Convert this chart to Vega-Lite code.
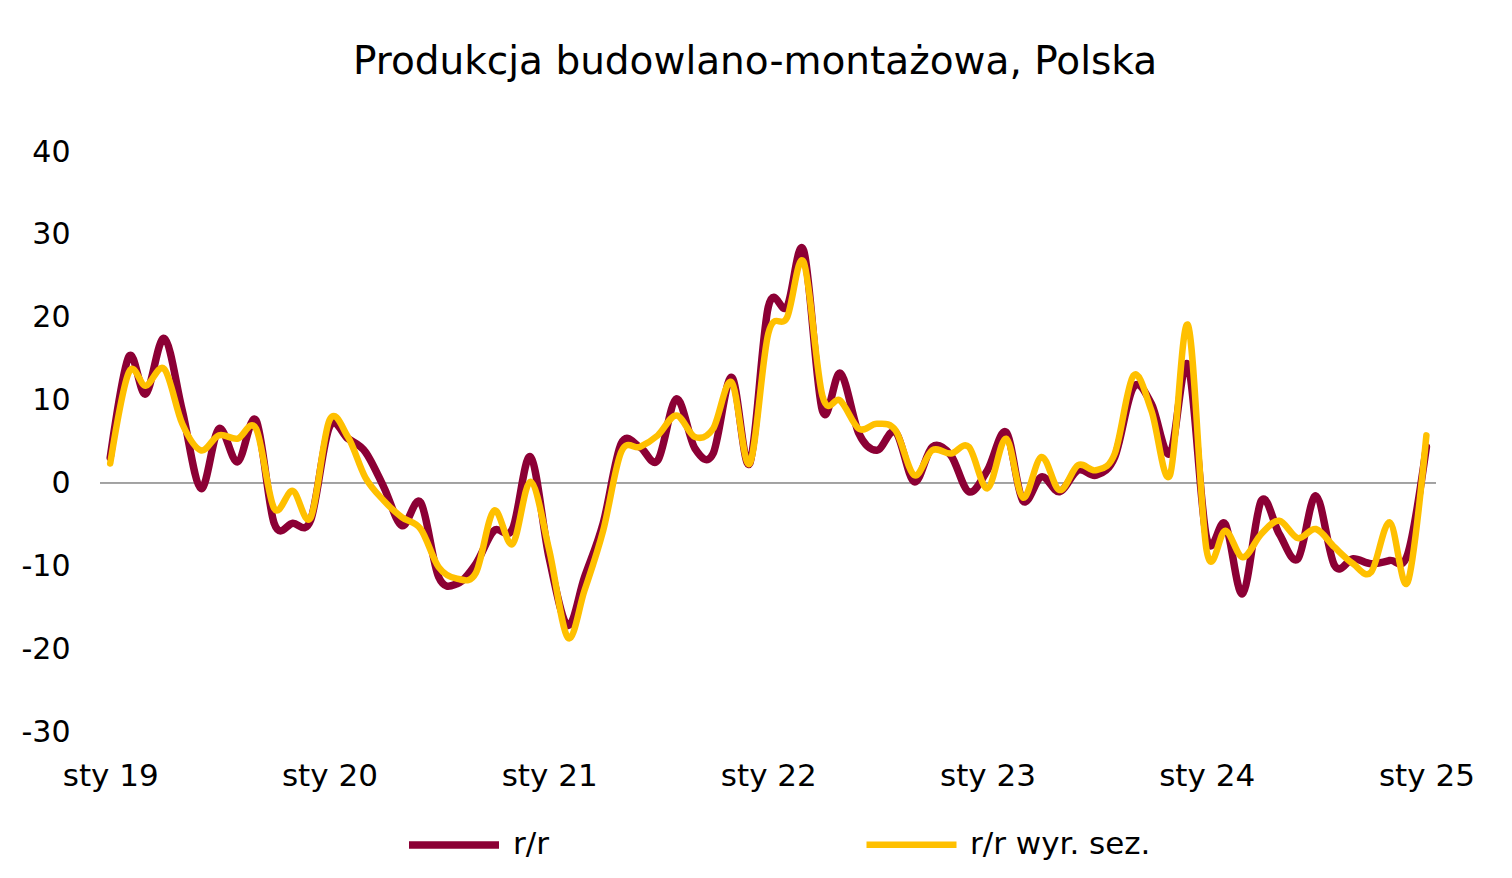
{
  "$schema": "https://vega.github.io/schema/vega-lite/v6.json",
  "autosize": "none",
  "width": 1336,
  "height": 580,
  "padding": {"left": 100, "top": 152, "right": 76, "bottom": 146},
  "background": "white",
  "config": {
    "view": {"stroke": null},
    "font": "DejaVu Sans"
  },
  "title": {
    "text": "Produkcja budowlano-montażowa, Polska",
    "font": "DejaVu Sans",
    "fontSize": 39,
    "fontWeight": "normal",
    "color": "#000000",
    "anchor": "middle",
    "dx": -13,
    "offset": 55
  },
  "data": {
    "values": [
      {"date": "2019-01-01", "rr": 3.1, "sa": 2.4},
      {"date": "2019-02-01", "rr": 15.3, "sa": 13.4},
      {"date": "2019-03-01", "rr": 10.8, "sa": 11.8},
      {"date": "2019-04-01", "rr": 17.5, "sa": 13.8},
      {"date": "2019-05-01", "rr": 8.8, "sa": 7.2},
      {"date": "2019-06-01", "rr": -0.6, "sa": 4.0},
      {"date": "2019-07-01", "rr": 6.6, "sa": 5.8},
      {"date": "2019-08-01", "rr": 2.6, "sa": 5.4},
      {"date": "2019-09-01", "rr": 7.6, "sa": 6.6},
      {"date": "2019-10-01", "rr": -4.8, "sa": -3.0},
      {"date": "2019-11-01", "rr": -4.8, "sa": -0.9},
      {"date": "2019-12-01", "rr": -4.4, "sa": -4.1},
      {"date": "2020-01-01", "rr": 6.8, "sa": 7.6},
      {"date": "2020-02-01", "rr": 5.4, "sa": 5.6},
      {"date": "2020-03-01", "rr": 3.8, "sa": 0.7},
      {"date": "2020-04-01", "rr": -0.5, "sa": -2.1},
      {"date": "2020-05-01", "rr": -5.1, "sa": -4.1},
      {"date": "2020-06-01", "rr": -2.3, "sa": -5.5},
      {"date": "2020-07-01", "rr": -11.3, "sa": -10.1},
      {"date": "2020-08-01", "rr": -12.1, "sa": -11.5},
      {"date": "2020-09-01", "rr": -9.7, "sa": -10.8},
      {"date": "2020-10-01", "rr": -5.7, "sa": -3.3},
      {"date": "2020-11-01", "rr": -5.5, "sa": -7.3},
      {"date": "2020-12-01", "rr": 3.2, "sa": 0.2},
      {"date": "2021-01-01", "rr": -9.0, "sa": -8.0},
      {"date": "2021-02-01", "rr": -17.1, "sa": -18.6},
      {"date": "2021-03-01", "rr": -11.3, "sa": -12.9},
      {"date": "2021-04-01", "rr": -4.8, "sa": -5.7},
      {"date": "2021-05-01", "rr": 4.8, "sa": 3.8},
      {"date": "2021-06-01", "rr": 4.4, "sa": 4.4},
      {"date": "2021-07-01", "rr": 2.8, "sa": 5.8},
      {"date": "2021-08-01", "rr": 10.2, "sa": 8.2},
      {"date": "2021-09-01", "rr": 4.2, "sa": 5.6},
      {"date": "2021-10-01", "rr": 3.6, "sa": 6.6},
      {"date": "2021-11-01", "rr": 12.8, "sa": 12.2},
      {"date": "2021-12-01", "rr": 2.4, "sa": 2.4},
      {"date": "2022-01-01", "rr": 21.3, "sa": 18.1},
      {"date": "2022-02-01", "rr": 21.3, "sa": 20.0},
      {"date": "2022-03-01", "rr": 28.1, "sa": 26.7},
      {"date": "2022-04-01", "rr": 8.8, "sa": 10.6},
      {"date": "2022-05-01", "rr": 13.3, "sa": 10.0},
      {"date": "2022-06-01", "rr": 6.0, "sa": 6.6},
      {"date": "2022-07-01", "rr": 4.0, "sa": 7.2},
      {"date": "2022-08-01", "rr": 6.2, "sa": 6.4},
      {"date": "2022-09-01", "rr": 0.2, "sa": 1.0},
      {"date": "2022-10-01", "rr": 4.4, "sa": 4.0},
      {"date": "2022-11-01", "rr": 3.4, "sa": 3.6},
      {"date": "2022-12-01", "rr": -1.0, "sa": 4.4},
      {"date": "2023-01-01", "rr": 1.6, "sa": -0.6},
      {"date": "2023-02-01", "rr": 6.2, "sa": 5.4},
      {"date": "2023-03-01", "rr": -2.1, "sa": -1.7},
      {"date": "2023-04-01", "rr": 0.8, "sa": 3.2},
      {"date": "2023-05-01", "rr": -1.0, "sa": -0.8},
      {"date": "2023-06-01", "rr": 1.6, "sa": 2.2},
      {"date": "2023-07-01", "rr": 1.0, "sa": 1.6},
      {"date": "2023-08-01", "rr": 3.2, "sa": 3.6},
      {"date": "2023-09-01", "rr": 11.6, "sa": 13.0},
      {"date": "2023-10-01", "rr": 9.6, "sa": 8.8},
      {"date": "2023-11-01", "rr": 3.6, "sa": 1.0},
      {"date": "2023-12-01", "rr": 14.3, "sa": 19.1},
      {"date": "2024-01-01", "rr": -6.6, "sa": -8.1},
      {"date": "2024-02-01", "rr": -4.9, "sa": -5.7},
      {"date": "2024-03-01", "rr": -13.3, "sa": -8.9},
      {"date": "2024-04-01", "rr": -2.1, "sa": -6.1},
      {"date": "2024-05-01", "rr": -6.1, "sa": -4.5},
      {"date": "2024-06-01", "rr": -9.1, "sa": -6.6},
      {"date": "2024-07-01", "rr": -1.5, "sa": -5.5},
      {"date": "2024-08-01", "rr": -9.9, "sa": -7.7},
      {"date": "2024-09-01", "rr": -9.1, "sa": -9.7},
      {"date": "2024-10-01", "rr": -9.7, "sa": -10.7},
      {"date": "2024-11-01", "rr": -9.3, "sa": -4.7},
      {"date": "2024-12-01", "rr": -8.5, "sa": -11.9},
      {"date": "2025-01-01", "rr": 4.4, "sa": 5.8}
    ]
  },
  "layer": [
    {
      "mark": {"type": "rule", "color": "#A6A6A6", "strokeWidth": 1},
      "encoding": {"y": {"datum": 0, "type": "quantitative"}}
    },
    {
      "transform": [{"fold": ["rr", "sa"], "as": ["series", "value"]}],
      "mark": {"type": "line", "interpolate": "cardinal", "strokeCap": "round", "strokeJoin": "round"},
      "encoding": {
        "x": {
          "field": "date",
          "type": "temporal",
          "scale": {
            "type": "utc",
            "domain": [
              {"year": 2018, "month": 12, "date": 15, "utc": true},
              {"year": 2025, "month": 1, "date": 17, "utc": true}
            ]
          },
          "axis": {
            "title": null,
            "domain": false,
            "ticks": false,
            "grid": false,
            "values": [
              {"year": 2019, "month": 1, "date": 1, "utc": true},
              {"year": 2020, "month": 1, "date": 1, "utc": true},
              {"year": 2021, "month": 1, "date": 1, "utc": true},
              {"year": 2022, "month": 1, "date": 1, "utc": true},
              {"year": 2023, "month": 1, "date": 1, "utc": true},
              {"year": 2024, "month": 1, "date": 1, "utc": true},
              {"year": 2025, "month": 1, "date": 1, "utc": true}
            ],
            "labelExpr": "'sty ' + utcFormat(datum.value, '%y')",
            "labelFont": "DejaVu Sans",
            "labelFontSize": 31,
            "labelColor": "#000000",
            "labelPadding": 29,
            "labelFlush": false,
            "labelOverlap": false
          }
        },
        "y": {
          "field": "value",
          "type": "quantitative",
          "scale": {"domain": [-30, 40], "nice": false, "zero": false},
          "axis": {
            "title": null,
            "domain": false,
            "ticks": false,
            "grid": false,
            "values": [-30, -20, -10, 0, 10, 20, 30, 40],
            "labelExpr": "'' + datum.value",
            "labelFont": "DejaVu Sans",
            "labelFontSize": 30,
            "labelColor": "#000000",
            "labelPadding": 30
          }
        },
        "color": {
          "field": "series",
          "type": "nominal",
          "scale": {"domain": ["rr", "sa"], "range": ["#8C0035", "#FFC000"]},
          "legend": {
            "title": null,
            "orient": "none",
            "direction": "horizontal",
            "legendX": 305,
            "legendY": 644,
            "symbolType": "stroke",
            "symbolSize": 8100,
            "symbolStrokeWidth": 7,
            "labelExpr": "datum.label == 'rr' ? 'r/r' : 'r/r wyr. sez.'",
            "labelFont": "DejaVu Sans",
            "labelFontSize": 31,
            "labelColor": "#000000",
            "labelOffset": 10,
            "labelLimit": 500,
            "columnPadding": 304,
            "padding": 0
          }
        },
        "strokeWidth": {
          "field": "series",
          "type": "nominal",
          "scale": {"domain": ["rr", "sa"], "range": [7.5, 6.5]},
          "legend": null
        }
      }
    }
  ]
}
